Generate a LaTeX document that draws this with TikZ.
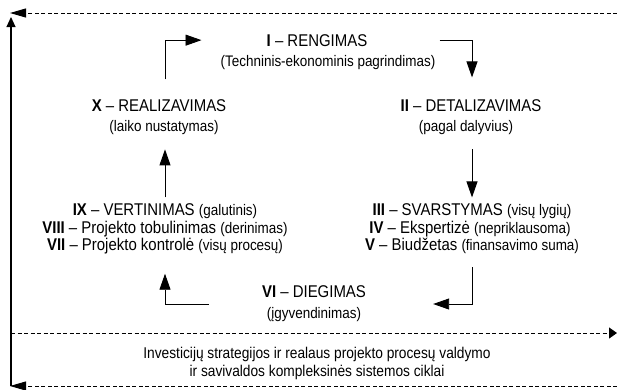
\documentclass[tikz,border=0pt]{standalone}
\usepackage{fontspec}
\setmainfont{Liberation Sans}[FakeStretch=0.88]
\usetikzlibrary{arrows.meta}

\newcommand{\aside}[1]{{\fontsize{15.3}{18}\selectfont #1}}

\tikzset{
  title/.style={font=\fontsize{17}{20}\selectfont, inner sep=0pt, anchor=base},
  sub/.style={font=\fontsize{15.3}{18}\selectfont, inner sep=0pt, anchor=base},
  flow/.style={line width=.9pt, -{Triangle[length=16pt,width=11pt]}},
  rim/.style={line width=1.1pt},
  cyc/.style={dash pattern=on 4pt off 2.5pt, line width=1pt},
}

\begin{document}
\begin{tikzpicture}[x=1pt,y=-1pt]
  \useasboundingbox (0,0) rectangle (617,389);

  % Outer cycle
  \draw[rim, -{Triangle[length=10pt,width=9pt]}] (11,386) -- (11,17);
  \draw[cyc, -{Triangle[length=16pt,width=9pt]}] (617,13) -- (10,13);
  \draw[cyc, -{Triangle[length=8pt,width=11pt]}] (11,333) -- (617,333);
  \draw[cyc, -{Triangle[length=16pt,width=9pt]}] (617,386) -- (10,386);

  % Stages
  \node[title] (rengT) at (317,46) {\textbf{I} – RENGIMAS};
  \node[sub] (rengS) at (328,66) {(Techninis-ekonominis pagrindimas)};

  \node[title] (detT) at (471,111) {\textbf{II} – DETALIZAVIMAS};
  \node[sub] (detS) at (466,131) {(pagal dalyvius)};

  \node[title] (realT) at (159,111) {\textbf{X} – REALIZAVIMAS};
  \node[sub] (realS) at (164,131) {(laiko nustatymas)};

  \node[title] (svar1) at (472,215) {\textbf{III} – SVARSTYMAS \aside{(visų lygių)}};
  \node[title] (svar2) at (470,233) {\textbf{IV} – Ekspertizė \aside{(nepriklausoma)}};
  \node[title] (svar3) at (472,250) {\textbf{V} – Biudžetas \aside{(finansavimo suma)}};

  \node[title] (vert1) at (165,215) {\textbf{IX} – VERTINIMAS \aside{(galutinis)}};
  \node[title] (vert2) at (165,233) {\textbf{VIII} – Projekto tobulinimas \aside{(derinimas)}};
  \node[title] (vert3) at (165,250) {\textbf{VII} – Projekto kontrolė \aside{(visų procesų)}};

  \node[title, anchor=center, align=center] (dieg) at (314,304)
    {\textbf{VI} – DIEGIMAS\\[1pt]\aside{(įgyvendinimas)}};

  \node[sub, anchor=center, align=center, font=\fontsize{15.6}{18}\selectfont] (cikl) at (317,363)
    {Investicijų strategijos ir realaus projekto procesų valdymo\\ir savivaldos kompleksinės sistemos ciklai};

  % Transitions
  \draw[flow, shorten <=19.5pt, shorten >=65pt] (realT.north -| vert1.north) |- (rengT.west);
  \draw[flow, shorten <=72pt, shorten >=21.5pt] (rengT.east) -| (svar1.north |- detT.north);
  \draw[flow, shorten <=15pt, shorten >=5.5pt] (svar1.north |- detS.south) -- (svar1.north);
  \draw[flow, shorten <=14pt, shorten >=67pt] (svar3.south) |- (dieg.east);
  \draw[flow, shorten <=53pt, shorten >=20pt] (dieg.west) -| (vert3.south);
  \draw[flow, shorten <=5.5pt, shorten >=15pt] (vert1.north) -- (vert1.north |- realS.south);
\end{tikzpicture}
\end{document}
